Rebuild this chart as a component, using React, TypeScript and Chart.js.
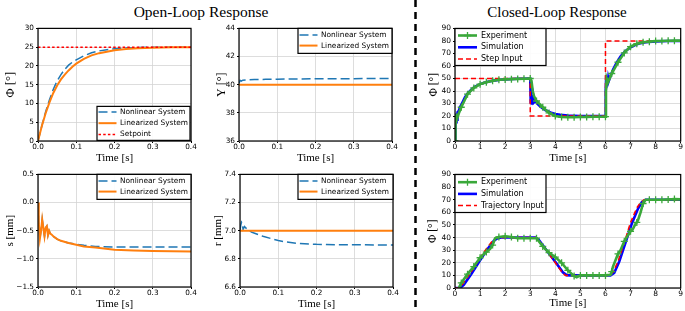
import React, { useEffect, useRef } from 'react';
import { Chart, registerables } from 'chart.js';

Chart.register(...registerables);

// ---------------- tick labels ----------------
const OPEN_X_TICKS = [0, 0.1, 0.2, 0.3, 0.4];
const CLOSED_X_TICKS = [0, 1, 2, 3, 4, 5, 6, 7, 8, 9];
const PHI_OL_Y_TICKS = [0, 5, 10, 15, 20, 25, 30];
const GAMMA_Y_TICKS = [36, 38, 40, 42, 44];
const S_Y_TICKS = [-1.5, -1.0, -0.5, 0, 0.5];
const R_Y_TICKS = [6.6, 6.8, 7.0, 7.2, 7.4];
const PHI_CL_Y_TICKS = [0, 10, 20, 30, 40, 50, 60, 70, 80, 90];

// ---------------- open loop: phi ----------------
const PHI_T = [0, 0.01, 0.02, 0.03, 0.04, 0.05, 0.06, 0.07, 0.08, 0.09, 0.10, 0.12, 0.14, 0.16, 0.18, 0.20, 0.23, 0.26, 0.30, 0.35, 0.40];
const PHI_NL = [0, 4.0, 7.8, 11.0, 13.8, 16.0, 17.7, 19.1, 20.2, 21.0, 21.6, 22.7, 23.5, 24.0, 24.3, 24.6, 24.8, 24.9, 25.0, 25.0, 25.0];
const PHI_LIN = [0, 4.0, 7.4, 10.3, 12.8, 14.8, 16.4, 17.7, 18.8, 19.8, 20.6, 21.9, 22.8, 23.4, 23.8, 24.2, 24.5, 24.7, 24.85, 24.95, 25.0];
const SETPOINT_T = [0, 0.4];
const SETPOINT = [25, 25];

// ---------------- open loop: gamma ----------------
const GAM_T = [0, 0.003, 0.006, 0.01, 0.02, 0.04, 0.07, 0.1, 0.15, 0.2, 0.3, 0.4];
const GAM_NL = [40.1, 40.3, 40.25, 40.32, 40.34, 40.36, 40.38, 40.39, 40.41, 40.42, 40.43, 40.44];
const GAM_LIN_T = [0, 0.4];
const GAM_LIN = [40, 40];

// ---------------- open loop: s ----------------
const S_T = [0, 0.002, 0.005, 0.008, 0.011, 0.014, 0.017, 0.020, 0.023, 0.026, 0.029, 0.032, 0.036, 0.04, 0.05, 0.06, 0.08, 0.10, 0.12, 0.15, 0.2, 0.25, 0.3, 0.4];
const S_NL = [0, -0.35, -0.64, -0.5, -0.3, -0.45, -0.6, -0.45, -0.42, -0.58, -0.5, -0.55, -0.57, -0.6, -0.65, -0.68, -0.72, -0.74, -0.76, -0.78, -0.79, -0.79, -0.79, -0.79];
const S_LIN = [0, -0.35, -0.64, -0.5, -0.3, -0.45, -0.6, -0.45, -0.42, -0.58, -0.5, -0.55, -0.57, -0.6, -0.65, -0.68, -0.72, -0.75, -0.78, -0.8, -0.84, -0.85, -0.86, -0.87];

// ---------------- open loop: r ----------------
const R_T = [0, 0.002, 0.004, 0.006, 0.008, 0.010, 0.012, 0.015, 0.02, 0.03, 0.04, 0.06, 0.08, 0.1, 0.12, 0.15, 0.2, 0.25, 0.3, 0.4];
const R_NL = [7.0, 7.04, 7.06, 7.05, 7.01, 7.02, 7.03, 7.02, 7.01, 6.99, 6.98, 6.96, 6.945, 6.93, 6.92, 6.91, 6.903, 6.9, 6.9, 6.898];
const R_LIN_T = [0, 0.4];
const R_LIN = [7.0, 7.0];

// ---------------- closed loop: step ----------------
const STEP_T = [0, 3, 3, 6, 6, 9];
const STEP_IN = [50, 50, 20, 20, 80, 80];
const STEP_SIM_T = [0, 0.02, 0.04, 0.06, 0.08, 0.1, 0.15, 0.2, 0.3, 0.4, 0.5, 0.6, 0.7, 0.8, 0.9, 1.0, 1.2, 1.4, 1.6, 1.8, 2.0, 2.5, 3.0, 3.01, 3.03, 3.05, 3.07, 3.09, 3.11, 3.13, 3.15, 3.2, 3.3, 3.4, 3.5, 3.6, 3.7, 3.8, 4.0, 4.2, 4.5, 5.0, 6.0, 6.01, 6.03, 6.05, 6.07, 6.09, 6.11, 6.13, 6.2, 6.3, 6.4, 6.5, 6.6, 6.7, 6.8, 7.0, 7.2, 7.4, 7.6, 8.0, 8.5, 9.0];
const STEP_SIM = [0, 22, 15, 22, 17, 23, 24, 27, 31, 35, 38, 40, 42, 43.5, 44.5, 45.5, 46.8, 47.8, 48.5, 49, 49.3, 49.8, 50, 40, 30, 37, 29, 35, 30, 34, 31, 32, 29.5, 27.5, 26, 24.8, 23.8, 22.8, 21.6, 20.9, 20.3, 20, 20, 40, 52, 44, 50, 46, 50, 48, 52, 57, 61, 64.5, 67.5, 70, 72, 75, 77, 78.3, 79, 79.7, 80, 80];
const STEP_EXP_T = [0, 0.02, 0.04, 0.06, 0.08, 0.1, 0.15, 0.25, 0.5, 0.75, 1.0, 1.25, 1.5, 1.75, 2.0, 2.25, 2.5, 2.75, 3.0, 3.05, 3.1, 3.15, 3.25, 3.5, 3.75, 4.0, 4.25, 4.5, 4.75, 5.0, 5.25, 5.5, 5.75, 6.0, 6.02, 6.05, 6.1, 6.25, 6.5, 6.75, 7.0, 7.25, 7.5, 7.75, 8.0, 8.25, 8.5, 8.75, 9.0];
const STEP_EXP = [0, 12, 21, 16, 22, 19, 22, 27, 37.5, 42.5, 45.5, 47, 48.2, 49, 49.3, 49.5, 49.7, 49.8, 50, 48, 40, 36, 32, 27, 22.5, 20, 19.2, 19, 19, 19.2, 19.3, 19.4, 19.4, 19.5, 40, 50, 47, 54, 63, 70.5, 75.5, 77.8, 79, 79.5, 80, 80, 80.2, 80.3, 80.3];

// ---------------- closed loop: trajectory ----------------
const TRAJ_T = [0, 0.15, 0.3, 0.6, 1.0, 1.3, 1.5, 1.65, 3.2, 3.3, 3.6, 4.0, 4.25, 4.4, 6.15, 6.3, 6.5, 6.75, 7.0, 7.25, 7.4, 7.55, 9.0];
const TRAJ_IN = [0, 0, 3, 11.5, 24, 32.5, 37.5, 40, 40, 38.5, 31, 20, 13, 10, 10, 12.5, 21, 36, 52, 63.5, 68, 70, 70];
const TRAJ_SIM_T = [0, 0.2, 0.35, 0.65, 1.0, 1.3, 1.55, 1.7, 1.85, 3.22, 3.35, 3.65, 4.05, 4.3, 4.45, 4.6, 6.2, 6.35, 6.55, 6.8, 7.05, 7.3, 7.45, 7.6, 9.0];
const TRAJ_SIM = [0, 0, 2.5, 11, 22, 31, 37.5, 39.5, 40, 40, 38, 30, 19.5, 12.5, 10.2, 10, 10, 12, 21, 36, 51, 63, 68, 70, 70];
const TRAJ_EXP_T = [0.15, 0.25, 0.5, 0.75, 1.0, 1.1, 1.25, 1.4, 1.5, 1.6, 1.75, 2.0, 2.25, 2.5, 2.75, 3.0, 3.25, 3.5, 3.75, 4.0, 4.25, 4.5, 4.75, 4.85, 5.0, 5.25, 5.5, 5.75, 6.0, 6.2, 6.25, 6.3, 6.4, 6.5, 6.6, 6.75, 6.9, 7.0, 7.1, 7.2, 7.25, 7.3, 7.4, 7.5, 7.6, 7.75, 8.0, 8.25, 8.5, 8.75, 9.0];
const TRAJ_EXP = [0, 4, 11, 17, 24, 26, 28.5, 31, 34, 39.5, 40.5, 41, 40.5, 39.5, 39.5, 39.5, 39.5, 33, 28, 24.5, 20, 14, 9.5, 8.5, 10, 10, 10, 10, 10, 10.5, 13, 17, 22, 27, 30, 37, 42, 45, 47, 51, 52, 54, 60, 67, 70, 70, 70, 70, 70.2, 70.5, 70.3];

// ---------------- styling ----------------
const C_NL = '#1f77b4';
const C_LIN = '#ff7f0e';
const C_RED = '#ff0000';
const C_EXP = '#3aa83a';
const C_SIM = '#0000ff';
const GRID = '#d4d4d4';
const SANS = '"DejaVu Sans"';
const SERIF = '"Liberation Serif", "Times New Roman", serif';

const zip = (t: number[], v: number[]) => t.map((x, i) => ({ x, y: v[i] }));
const fmt1 = (v: number) => (v < 0 ? '\u2212' : '') + Math.abs(v).toFixed(1);
const fmt0 = (v: number) => String(Math.round(v));

const nlSet = (t: number[], v: number[]) => ({
  label: 'Nonlinear System', data: zip(t, v), borderColor: C_NL, borderWidth: 1.5,
  borderDash: [9, 4], pointRadius: 0, order: 2,
});
const linSet = (t: number[], v: number[]) => ({
  label: 'Linearized System', data: zip(t, v), borderColor: C_LIN, borderWidth: 2,
  pointRadius: 0, order: 1,
});
const expSet = (t: number[], v: number[]) => ({
  label: 'Experiment', data: zip(t, v), borderColor: C_EXP, borderWidth: 2.6,
  pointStyle: 'cross', pointBorderColor: C_EXP, pointBorderWidth: 1.3,
  pointRadius: (c: any) => {
    const r = c.raw;
    return r && Math.abs(r.x * 4 - Math.round(r.x * 4)) < 1e-6 ? 3.5 : 0;
  },
  order: 0,
});
const simSet = (t: number[], v: number[]) => ({
  label: 'Simulation', data: zip(t, v), borderColor: C_SIM, borderWidth: 2.6,
  pointRadius: 0, order: 2,
});
const refSet = (label: string, t: number[], v: number[]) => ({
  label, data: zip(t, v), borderColor: C_RED, borderWidth: 1.5,
  borderDash: [5, 3], pointRadius: 0, order: 1,
});
const setpointSet = (t: number[], v: number[]) => ({
  label: 'Setpoint', data: zip(t, v), borderColor: C_RED, borderWidth: 1.5,
  borderDash: [2.5, 2.2], pointRadius: 0, order: 0,
});

// ---------------- plugins ----------------
const framePlugin = {
  id: 'frame',
  afterDatasetsDraw(chart: any) {
    const { ctx, chartArea: a } = chart;
    ctx.save();
    ctx.strokeStyle = '#000';
    ctx.lineWidth = 1.2;
    ctx.setLineDash([]);
    ctx.strokeRect(a.left, a.top, a.right - a.left, a.bottom - a.top);
    ctx.restore();
  },
};

const boxLegendPlugin = {
  id: 'boxLegend',
  afterDraw(chart: any, _args: any, o: any) {
    if (!o || !o.w) return;
    const { ctx, chartArea: a } = chart;
    const x0 = a.left + o.x;
    const y0 = a.top + o.y;
    ctx.save();
    ctx.fillStyle = 'rgba(255,255,255,0.92)';
    ctx.fillRect(x0, y0, o.w, o.h);
    ctx.strokeStyle = '#000';
    ctx.lineWidth = 1.2;
    ctx.strokeRect(x0, y0, o.w, o.h);
    chart.data.datasets.forEach((d: any, i: number) => {
      const cy = y0 + o.first + i * o.step;
      ctx.strokeStyle = d.borderColor;
      ctx.lineWidth = d.borderWidth;
      ctx.setLineDash(d.borderDash || []);
      ctx.beginPath();
      ctx.moveTo(x0 + o.s0, cy);
      ctx.lineTo(x0 + o.s1, cy);
      ctx.stroke();
      ctx.setLineDash([]);
      if (d.pointStyle === 'cross') {
        const mx = x0 + (o.s0 + o.s1) / 2;
        ctx.lineWidth = d.pointBorderWidth;
        ctx.beginPath();
        ctx.moveTo(mx - 3.5, cy); ctx.lineTo(mx + 3.5, cy);
        ctx.moveTo(mx, cy - 3.5); ctx.lineTo(mx, cy + 3.5);
        ctx.stroke();
      }
      ctx.fillStyle = '#000';
      ctx.font = `${o.font}px ${SANS}`;
      ctx.textAlign = 'left';
      ctx.textBaseline = 'middle';
      ctx.fillText(d.label, x0 + o.tx, cy);
    });
    ctx.restore();
  },
};

// ---------------- panels ----------------
type Panel = {
  L: number; T: number; R: number; B: number;
  yw: number; xh: number; pt: number; pr: number;
  yTitle: string; ySize: number; yTicks: number[]; yFmt: (v: number) => string;
  xTicks: number[]; xFmt: (v: number) => string;
  tick: number; datasets: any[]; legend: any;
};

const OL_LEG_FONT = 7.4;
const CL_LEG_FONT = 8;

const PANELS: Panel[] = [
  {
    L: 38, T: 28, R: 191, B: 141, yw: 35, xh: 24, pt: 6, pr: 8,
    yTitle: '\u03a6 [\u00b0]', ySize: 12.5, yTicks: PHI_OL_Y_TICKS, yFmt: fmt0, xTicks: OPEN_X_TICKS, xFmt: fmt1, tick: 7.3,
    datasets: [nlSet(PHI_T, PHI_NL), linSet(PHI_T, PHI_LIN), setpointSet(SETPOINT_T, SETPOINT)],
    legend: { x: 59, y: 78, w: 93, h: 34, first: 5.5, step: 11.3, s0: 1.5, s1: 19.5, tx: 23, font: OL_LEG_FONT },
  },
  {
    L: 239, T: 28, R: 392, B: 141, yw: 25, xh: 24, pt: 6, pr: 8,
    yTitle: '\u03a5 [\u00b0]', ySize: 12, yTicks: GAMMA_Y_TICKS, yFmt: fmt0, xTicks: OPEN_X_TICKS, xFmt: fmt1, tick: 7.3,
    datasets: [nlSet(GAM_T, GAM_NL), linSet(GAM_LIN_T, GAM_LIN)],
    legend: { x: 59, y: 0, w: 94, h: 25, first: 6.5, step: 10.7, s0: 1.5, s1: 19.5, tx: 23, font: OL_LEG_FONT },
  },
  {
    L: 38, T: 174, R: 191, B: 287, yw: 36, xh: 24, pt: 6, pr: 8,
    yTitle: 's [mm]', ySize: 11, yTicks: S_Y_TICKS, yFmt: fmt1, xTicks: OPEN_X_TICKS, xFmt: fmt1, tick: 7.3,
    datasets: [nlSet(S_T, S_NL), linSet(S_T, S_LIN)],
    legend: { x: 59, y: 0, w: 94, h: 25, first: 6.5, step: 10.7, s0: 1.5, s1: 19.5, tx: 23, font: OL_LEG_FONT },
  },
  {
    L: 240, T: 174, R: 393, B: 287, yw: 30, xh: 24, pt: 6, pr: 8,
    yTitle: 'r [mm]', ySize: 11, yTicks: R_Y_TICKS, yFmt: fmt1, xTicks: OPEN_X_TICKS, xFmt: fmt1, tick: 7.3,
    datasets: [nlSet(R_T, R_NL), linSet(R_LIN_T, R_LIN)],
    legend: { x: 58, y: 0, w: 95, h: 25, first: 6.5, step: 10.7, s0: 1.5, s1: 19.5, tx: 23, font: OL_LEG_FONT },
  },
  {
    L: 455, T: 28, R: 683, B: 141, yw: 29, xh: 24, pt: 6, pr: 3,
    yTitle: '\u03a6 [\u00b0]', ySize: 11.5, yTicks: PHI_CL_Y_TICKS, yFmt: fmt0, xTicks: CLOSED_X_TICKS, xFmt: fmt0, tick: 7.5,
    datasets: [expSet(STEP_EXP_T, STEP_EXP), simSet(STEP_SIM_T, STEP_SIM), refSet('Step Input', STEP_T, STEP_IN)],
    legend: { x: 0, y: 0, w: 91, h: 37, first: 7, step: 11.8, s0: 3, s1: 22, tx: 26, font: CL_LEG_FONT },
  },
  {
    L: 455, T: 174, R: 683, B: 288, yw: 30, xh: 22, pt: 6, pr: 3,
    yTitle: '\u03a6 [\u00b0]', ySize: 11.5, yTicks: PHI_CL_Y_TICKS, yFmt: fmt0, xTicks: CLOSED_X_TICKS, xFmt: fmt0, tick: 7.5,
    datasets: [expSet(TRAJ_EXP_T, TRAJ_EXP), simSet(TRAJ_SIM_T, TRAJ_SIM), refSet('Trajectory Input', TRAJ_T, TRAJ_IN)],
    legend: { x: 0, y: 0, w: 91, h: 38, first: 7.7, step: 11.7, s0: 3, s1: 22, tx: 26, font: CL_LEG_FONT },
  },
];

function PanelChart({ p }: { p: Panel }) {
  const ref = useRef<HTMLCanvasElement | null>(null);
  const left = p.L - p.yw;
  const top = p.T - p.pt;
  const width = p.yw + (p.R - p.L) + p.pr;
  const height = p.pt + (p.B - p.T) + p.xh;

  useEffect(() => {
    if (!ref.current) return;
    const tickFont = { family: SANS, size: p.tick };
    const yTitleFont = { family: SERIF, size: p.ySize };
    const xTitleFont = { family: SERIF, size: 11 };
    const yPad = 8 - (p.ySize * 1.2) / 2;
    const chart = new Chart(ref.current, {
      type: 'line',
      data: { datasets: p.datasets },
      options: {
        animation: false,
        responsive: false,
        events: [],
        layout: { padding: { top: p.pt, right: p.pr, left: 0, bottom: 0 } },
        elements: { line: { tension: 0 } },
        plugins: {
          legend: { display: false },
          tooltip: { enabled: false },
          boxLegend: p.legend,
        } as any,
        scales: {
          x: {
            type: 'linear',
            min: p.xTicks[0],
            max: p.xTicks[p.xTicks.length - 1],
            afterBuildTicks: (s: any) => { s.ticks = p.xTicks.map((v) => ({ value: v })); },
            afterFit: (s: any) => { s.height = p.xh; },
            ticks: { callback: (v: any) => p.xFmt(Number(v)), font: tickFont, color: '#000', padding: 0, maxRotation: 0, autoSkip: false },
            grid: { color: GRID, lineWidth: 0.8, tickLength: 2, tickColor: '#000', tickWidth: 1 },
            border: { display: false },
            title: { display: true, text: 'Time [s]', font: xTitleFont, color: '#000', padding: 0 },
          },
          y: {
            type: 'linear',
            min: p.yTicks[0],
            max: p.yTicks[p.yTicks.length - 1],
            afterBuildTicks: (s: any) => { s.ticks = p.yTicks.map((v) => ({ value: v })); },
            afterFit: (s: any) => { s.width = p.yw; },
            ticks: { callback: (v: any) => p.yFmt(Number(v)), font: tickFont, color: '#000', padding: 2, autoSkip: false },
            grid: { color: GRID, lineWidth: 0.8, tickLength: 2, tickColor: '#000', tickWidth: 1 },
            border: { display: false },
            title: { display: true, text: p.yTitle, font: yTitleFont, color: '#000', padding: { top: yPad, bottom: 0 } },
          },
        },
      } as any,
      plugins: [framePlugin, boxLegendPlugin],
    });
    return () => chart.destroy();
  }, [p]);

  return (
    <canvas
      ref={ref}
      width={width}
      height={height}
      style={{ position: 'absolute', left, top, width, height }}
    />
  );
}

export default function App() {
  return (
    <div style={{ position: 'fixed', left: 0, top: 0, width: 685, height: 311, background: '#fff', overflow: 'hidden' }}>
      <div style={{ position: 'absolute', left: 201, top: 3, transform: 'translateX(-50%)', fontFamily: SERIF, fontSize: 15.5, lineHeight: '18px', whiteSpace: 'nowrap', color: '#000' }}>
        Open-Loop Response
      </div>
      <div style={{ position: 'absolute', left: 557, top: 3, transform: 'translateX(-50%)', fontFamily: SERIF, fontSize: 15, lineHeight: '18px', whiteSpace: 'nowrap', color: '#000' }}>
        Closed-Loop Response
      </div>
      <svg width={685} height={311} style={{ position: 'absolute', left: 0, top: 0 }}>
        <line x1={415.5} y1={0} x2={415.5} y2={311} stroke="#000" strokeWidth={2.5} strokeDasharray="7 5" />
      </svg>
      {PANELS.map((p, i) => (
        <PanelChart key={i} p={p} />
      ))}
    </div>
  );
}
